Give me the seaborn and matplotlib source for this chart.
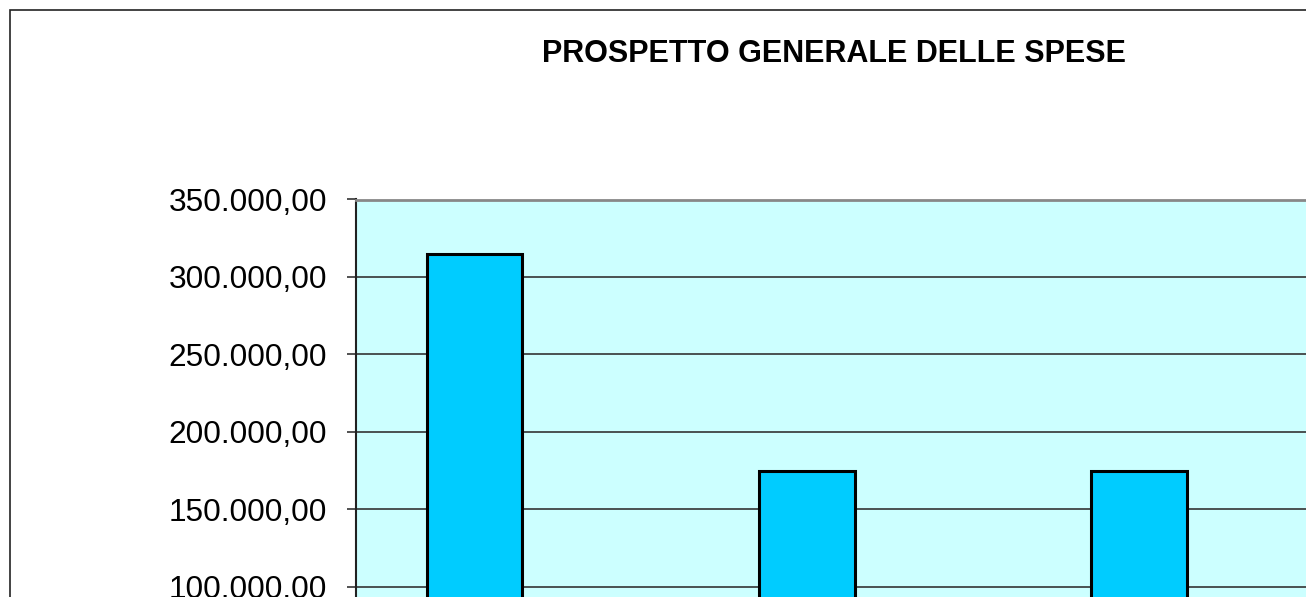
import matplotlib
matplotlib.use("Agg")
import matplotlib.pyplot as plt
import matplotlib.ticker as mticker
from matplotlib.patches import Rectangle
import seaborn as sns
import pandas as pd

# %%
# values
categories = ["Voce 1", "Voce 2", "Voce 3"]
spese = [314500, 174700, 174600]
yticks = [0, 50000, 100000, 150000, 200000, 250000, 300000, 350000]
title = "PROSPETTO GENERALE DELLE SPESE"

df = pd.DataFrame({"voce": categories, "spesa": spese})


def it_format(v, pos=None):
    s = f"{v:,.2f}"
    return s.replace(",", "X").replace(".", ",").replace("X", ".")


# %%
sns.set_style("white")
plt.rcParams["font.family"] = ["Liberation Sans", "DejaVu Sans"]
plt.rcParams["text.color"] = "black"
plt.rcParams["ytick.labelcolor"] = "black"

W, H = 1306, 597
fig = plt.figure(figsize=(W / 100, H / 100), dpi=100)

# outer chart border (cropped on the right and bottom)
fig.patches.append(Rectangle((10 / W, -0.1), 2.0, 1 - 10 / H + 0.1, transform=fig.transFigure,
                             fill=False, edgecolor="#222222", linewidth=1.2))

left, top, right, bottom0 = 356, 199.5, 1400, 741.7
ax = fig.add_axes([left / W, (H - bottom0) / H, (right - left) / W, (bottom0 - top) / H])
ax.set_facecolor("#ccffff")

sns.barplot(data=df, x="voce", y="spesa", ax=ax, color="#00ccff", saturation=1,
            width=0.287, edgecolor="black", linewidth=2.2, zorder=3)

ax.set_ylim(0, 350000)
ax.set_xlim(-0.357, (right - 474.5) / 332.3)
ax.set_yticks(yticks)
ax.yaxis.set_major_formatter(mticker.FuncFormatter(it_format))
ax.grid(axis="y", color="#333333", linewidth=1.2, zorder=0)
ax.set_axisbelow(True)
ax.tick_params(axis="y", left=True, length=6.5, width=1.2, color="#333333",
               labelsize=22.8, pad=14.4, labelcolor="black")
ax.set_xticks([])
ax.set_xlabel("")
ax.set_ylabel("")
for s in ["right", "bottom"]:
    ax.spines[s].set_visible(False)
ax.spines["left"].set_color("#222222")
ax.spines["left"].set_linewidth(1.5)
ax.spines["top"].set_color("#888888")
ax.spines["top"].set_linewidth(2)

fig.text(833.5 / W, 1 - 61.7 / H, title, ha="center", va="baseline",
         fontsize=22, fontweight="bold", color="black")

fig.savefig("out.png", dpi=100)
